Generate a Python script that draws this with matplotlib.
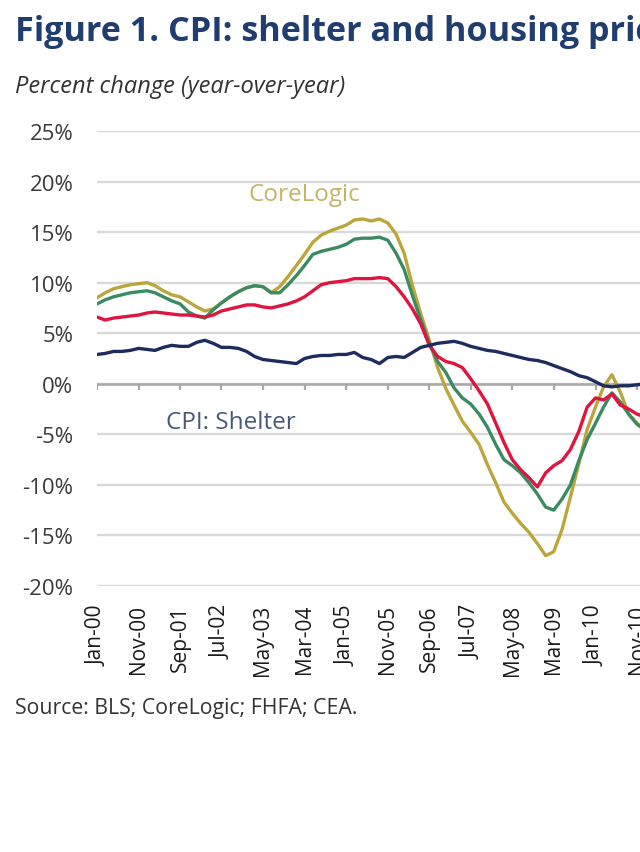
import matplotlib
matplotlib.use("Agg")
import matplotlib.pyplot as plt
import pandas as pd

plt.rcParams['font.family'] = ['Open Sans', 'DejaVu Sans']

# ---------------- data (bi-monthly readings, Jan-2000 .. Jan-2011) ----------------
dates = pd.date_range('2000-01-01', periods=67, freq='2MS')

cpi_shelter = [2.9, 3.0, 3.2, 3.2, 3.3, 3.5, 3.4, 3.3, 3.6, 3.8,
               3.7, 3.7, 4.1, 4.3, 4.0, 3.6, 3.6, 3.5, 3.2, 2.7,
               2.4, 2.3, 2.2, 2.1, 2.0, 2.5, 2.7, 2.8, 2.8, 2.9,
               2.9, 3.1, 2.6, 2.4, 2.0, 2.6, 2.7, 2.6, 3.1, 3.6,
               3.8, 4.0, 4.1, 4.2, 4.0, 3.7, 3.5, 3.3, 3.2, 3.0,
               2.8, 2.6, 2.4, 2.3, 2.1, 1.8, 1.5, 1.2, 0.8, 0.6,
               0.2, -0.2, -0.3, -0.2, -0.2, -0.1, 0.0]

red_series = [6.6, 6.3, 6.5, 6.6, 6.7, 6.8, 7.0, 7.1, 7.0, 6.9,
              6.8, 6.8, 6.7, 6.6, 6.8, 7.2, 7.4, 7.6, 7.8, 7.8,
              7.6, 7.5, 7.7, 7.9, 8.2, 8.6, 9.2, 9.8, 10.0, 10.1,
              10.2, 10.4, 10.4, 10.4, 10.5, 10.4, 9.6, 8.6, 7.4, 5.9,
              3.8, 2.7, 2.2, 2.0, 1.6, 0.5, -0.7, -2.0, -3.9, -5.8,
              -7.5, -8.5, -9.3, -10.2, -8.8, -8.1, -7.6, -6.5, -4.7, -2.3,
              -1.4, -1.6, -1.0, -2.1, -2.5, -3.0, -3.3]

green_series = [7.9, 8.3, 8.6, 8.8, 9.0, 9.1, 9.2, 9.0, 8.6, 8.2,
                7.9, 7.1, 6.7, 6.5, 7.3, 8.0, 8.6, 9.1, 9.5, 9.7,
                9.6, 9.0, 9.0, 9.8, 10.7, 11.7, 12.8, 13.1, 13.3, 13.5,
                13.8, 14.3, 14.4, 14.4, 14.5, 14.2, 12.9, 11.3, 8.7, 6.3,
                4.0, 2.2, 1.1, -0.4, -1.4, -2.0, -3.0, -4.3, -6.0, -7.5,
                -8.1, -8.8, -9.8, -10.9, -12.2, -12.5, -11.4, -10.0, -7.6, -5.5,
                -3.9, -2.3, -0.9, -1.8, -3.0, -4.0, -4.6]

corelogic = [8.5, 9.0, 9.4, 9.6, 9.8, 9.9, 10.0, 9.7, 9.2, 8.8,
             8.6, 8.1, 7.6, 7.2, 7.4, 8.0, 8.6, 9.1, 9.5, 9.7,
             9.6, 9.0, 9.6, 10.6, 11.7, 12.8, 14.0, 14.7, 15.1, 15.4,
             15.7, 16.2, 16.3, 16.1, 16.3, 15.9, 14.8, 12.9, 9.7, 6.9,
             4.3, 1.6, -0.5, -2.1, -3.7, -4.8, -6.0, -8.0, -9.8, -11.7,
             -12.8, -13.8, -14.7, -15.8, -17.0, -16.6, -14.4, -11.2, -7.9, -4.5,
             -2.3, -0.3, 0.9, -0.8, -3.0, -3.9, -4.5]

tick_dates = pd.date_range('2000-01-01', periods=14, freq='10MS')
tick_labels = ['Jan-00', 'Nov-00', 'Sep-01', 'Jul-02', 'May-03', 'Mar-04', 'Jan-05',
               'Nov-05', 'Sep-06', 'Jul-07', 'May-08', 'Mar-09', 'Jan-10', 'Nov-10']
y_ticks = [-20, -15, -10, -5, 0, 5, 10, 15, 20, 25]
y_labels = ['-20%', '-15%', '-10%', '-5%', '0%', '5%', '10%', '15%', '20%', '25%']

# ---------------- figure ----------------
W, H = 640, 853
fig = plt.figure(figsize=(W / 100, H / 100), dpi=100)
fig.patch.set_facecolor('white')

# axes: left edge at x=97 px, plot spans 25%..-20% between y=132 and y=587 px,
# 4.154 px per month -> the axis runs past the right edge of the picture
ax = fig.add_axes([97 / W, (H - 587) / H, 132 * 4.154 / W, 455 / H])
ax.set_xlim(pd.Timestamp('2000-01-01'), pd.Timestamp('2011-01-01'))
ax.set_ylim(-20, 25)

for s in ax.spines.values():
    s.set_visible(False)

ax.set_yticks(y_ticks)
ax.set_yticklabels(y_labels)
ax.yaxis.grid(True, color='#d9d9d9', lw=1.7)
ax.set_axisbelow(True)
ax.tick_params(axis='y', length=0, pad=17, labelsize=16, labelcolor='#3a3a3a')

ax.set_xticks(tick_dates)
ax.set_xticklabels(tick_labels, rotation=90, va='top', ha='center')
ax.tick_params(axis='x', length=0, pad=13, labelsize=15, labelcolor='#1a1a1a')

# zero line with downward tick marks
ax.axhline(0, color='#a8a8a8', lw=1.8, zorder=1)
ax.vlines(tick_dates, -0.65, 0, color='#a8a8a8', lw=1.6, zorder=1)

ax.plot(dates, corelogic, color='#bba63c', lw=2.4, zorder=3)
ax.plot(dates, green_series, color='#3a8a62', lw=2.4, zorder=4)
ax.plot(dates, red_series, color='#e0143f', lw=2.4, zorder=5)
ax.plot(dates, cpi_shelter, color='#1d2b5e', lw=2.4, zorder=6)

ax.text(pd.Timestamp('2004-02-25'), 18.8, 'CoreLogic', ha='center', va='center',
        fontsize=17.5, color='#c4b468')
ax.text(pd.Timestamp('2002-09-10'), -3.8, 'CPI: Shelter', ha='center', va='center',
        fontsize=17.5, color='#4a5878')

fig.text(15 / W, 1 - 32 / H, 'Figure 1. CPI: shelter and housing prices',
         fontsize=24.6, fontweight='bold', color='#1f3d6e', ha='left', va='center')
fig.text(15 / W, 1 - 87 / H, 'Percent change (year-over-year)', fontsize=17,
         style='italic', color='#333333', ha='left', va='center')
fig.text(15 / W, 1 - 709 / H, 'Source: BLS; CoreLogic; FHFA; CEA.', fontsize=15.3,
         color='#333333', ha='left', va='center')

fig.savefig('out.png', dpi=100, facecolor='white')
